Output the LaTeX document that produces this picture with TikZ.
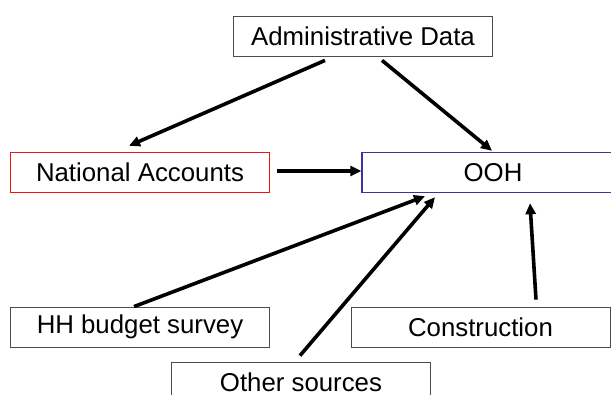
\documentclass[tikz,border=0pt]{standalone}
\usepackage{fontspec}
\setmainfont{Liberation Sans}
\usetikzlibrary{arrows.meta}

\definecolor{naRed}{RGB}{240,20,20}
\definecolor{oohBlue}{RGB}{55,55,155}

\begin{document}
\begin{tikzpicture}[x=1pt,y=-1pt,
        >={Triangle[length=11pt,width=10pt]},
        src/.style={draw=black!70,line width=0.8pt,minimum width=259pt,minimum height=40pt,
                    inner sep=0pt,font=\fontsize{25.8}{30}\selectfont},
        flow/.style={->,line width=3.6pt}]

  \useasboundingbox (0,0) rectangle (611,394);

  \node[src] (admin) at (363,36) {Administrative Data};
  \node[src,draw=naRed,line width=1.4pt] (na) at (140,172.5) {National Accounts};
  \node[src,draw=oohBlue,line width=1.4pt,minimum width=262pt] (ooh) at (493,172.5) {OOH};
  \node[src] (hh) at (140,327) {HH budget survey};
  \node[src] (cons) at (480.5,327) {Construction};
  \node[src] (other) at (301,382) {Other sources};

  \draw[flow] ([shift={(-38pt,-4pt)}]admin.south) -- ([shift={(-11pt,6pt)}]na.north);
  \draw[flow] ([shift={(19pt,-4pt)}]admin.south) -- ([shift={(-1pt,1pt)}]ooh.north);
  \draw[flow] ([shift={(7pt,1.5pt)}]na.east) -- ([shift={(0pt,1.5pt)}]ooh.west);
  \draw[flow] ([xshift=-6pt]hh.north) -- ([shift={(-68pt,-3pt)}]ooh.south);
  \draw[flow] ([shift={(-1pt,6pt)}]other.north) -- ([shift={(-58pt,-4pt)}]ooh.south);
  \draw[flow] ([shift={(55.5pt,7pt)}]cons.north) -- ([shift={(37pt,-10pt)}]ooh.south);
\end{tikzpicture}
\end{document}
